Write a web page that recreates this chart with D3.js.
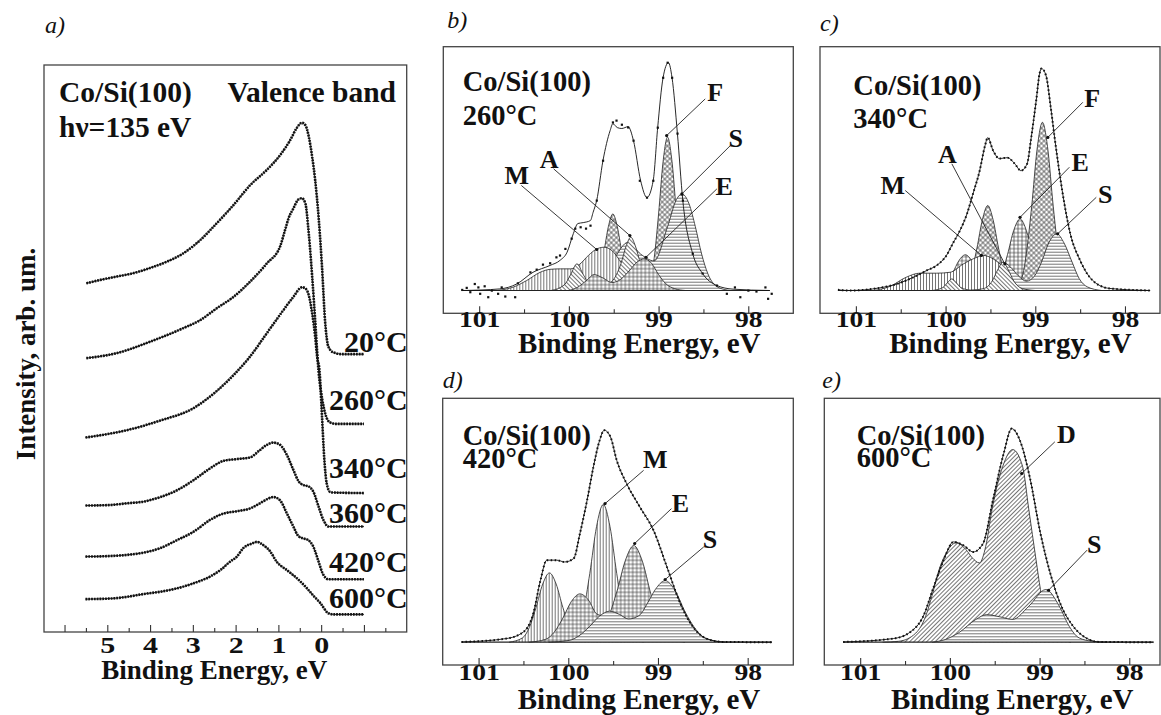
<!DOCTYPE html>
<meta charset="utf-8">
<script src="https://d3js.org/d3.v7.min.js"></script>
<style>
  body { margin: 0; background: #fff; }
  svg text { font-family: "Liberation Serif", "Times New Roman", serif; font-weight: bold; fill: #111; }
</style>
<div id="fig"></div>
<script>

// ---- a) valence band spectra: [binding energy eV, intensity arb. units] (already stacked)
var vbTemps = ["20°C", "260°C", "340°C", "360°C", "420°C", "600°C"];
var vb20 = [[5.49,61.5],[5.16,62.1],[4.77,62.7],[4.38,63.3],[4.00,64.2],[3.61,65.3],[3.22,66.8],[2.83,69.1],[2.44,72.1],[2.05,75.3],[1.66,78.8],[1.27,81.5],[0.96,84.1],[0.72,86.8],[0.57,88.9],[0.45,89.8],[0.37,89.4],[0.29,87.4],[0.21,83.8],[0.14,79.7],[0.06,73.2],[-0.02,64.4],[-0.09,55.0],[-0.17,50.3],[-0.29,49.3],[-0.5,49.0],[-1.0,49.0]];
var vb260 = [[5.49,48.3],[4.77,49.2],[4.00,51.2],[3.22,53.6],[2.83,55.0],[2.44,57.1],[2.05,59.1],[1.66,61.8],[1.27,65.0],[0.96,68.0],[0.84,71.0],[0.76,73.0],[0.65,74.7],[0.53,76.3],[0.45,76.5],[0.37,75.6],[0.29,70.3],[0.21,62.7],[0.14,55.0],[0.06,45.9],[-0.02,41.3],[-0.10,38.4],[-0.20,37.0],[-0.35,36.7],[-1.0,36.7]];
var vb340 = [[5.51,34.3],[4.54,35.6],[3.76,37.3],[2.98,39.5],[2.52,42.0],[2.05,45.3],[1.66,48.6],[1.27,52.7],[0.88,56.8],[0.65,59.1],[0.45,60.8],[0.37,60.6],[0.29,59.4],[0.21,56.2],[0.14,52.1],[0.09,48.3],[0.04,46.2],[-0.02,38.0],[-0.07,30.9],[-0.13,26.2],[-0.21,24.7],[-0.29,24.6],[-1.0,24.5]];
var vb360 = [[5.51,22.3],[4.93,22.4],[4.54,22.7],[4.15,23.0],[3.76,23.8],[3.37,25.0],[2.98,26.8],[2.59,28.9],[2.28,30.2],[1.97,30.5],[1.66,30.8],[1.43,32.1],[1.27,33.0],[1.12,33.4],[0.96,33.0],[0.80,31.2],[0.65,28.6],[0.53,26.6],[0.41,25.9],[0.30,25.7],[0.18,24.7],[0.06,22.1],[-0.05,19.8],[-0.17,18.6],[-1.0,18.6]];
var vb420 = [[5.51,13.3],[4.93,13.4],[4.54,13.6],[4.15,14.0],[3.76,14.8],[3.37,16.2],[2.98,17.7],[2.59,19.8],[2.28,20.9],[1.97,21.3],[1.66,21.8],[1.43,22.7],[1.27,23.4],[1.12,23.8],[0.96,23.2],[0.80,20.9],[0.65,18.6],[0.53,16.9],[0.41,16.5],[0.30,16.2],[0.18,15.0],[0.06,12.4],[-0.05,10.1],[-0.17,9.3],[-1.0,9.3]];
var vb600 = [[5.51,5.8],[4.93,5.9],[4.54,6.2],[4.15,6.7],[3.76,7.1],[3.37,7.7],[2.98,8.6],[2.59,9.8],[2.36,10.9],[2.13,12.4],[1.97,13.3],[1.82,14.8],[1.62,15.6],[1.50,15.9],[1.35,15.3],[1.19,14.2],[1.04,12.4],[0.80,10.9],[0.57,9.5],[0.33,7.7],[0.18,6.4],[0.02,5.1],[-0.17,3.3],[-0.29,3.1],[-1.0,3.1]];
var vbSeries = [vb20, vb260, vb340, vb360, vb420, vb600];
var vbLabelLevel = [49.4, 39.2, 27.2, 19.2, 10.6, 4.2];
var vbTicks = [6, 5.5, 5, 4.5, 4, 3.5, 3, 2.5, 2, 1.5, 1, 0.5, 0, -0.5, -1, -1.5];

// ---- b)-e) Si 2p core level: fit envelope, measured points, fitted components
var siTicks = [101, 100.5, 100, 99.5, 99, 98.5, 98];

var b_fit = [[101.19,0],[100.77,0.7],[100.58,2.9],[100.40,8.0],[100.21,11.0],[100.10,13.2],[100.02,16.8],[99.95,25.0],[99.90,29.4],[99.84,29.8],[99.76,30.7],[99.73,34.3],[99.69,39.5],[99.62,57.0],[99.54,70.2],[99.51,73.2],[99.46,71.5],[99.41,71.1],[99.34,71.9],[99.28,65.8],[99.20,48.2],[99.13,40.8],[99.06,48.2],[99.01,71.5],[98.95,93.4],[98.89,100],[98.85,93.4],[98.79,68.9],[98.73,39.5],[98.62,16.2],[98.51,7.5],[98.35,2.2],[98.17,0.6],[97.76,0]];
var b_pts = [[101.19,0.3],[101.14,1.2],[101.10,-0.7],[101.05,2.9],[101.01,1.4],[100.99,-1.4],[100.94,1.9],[100.90,-2.9],[100.86,0],[100.79,-1.4],[100.75,1.4],[100.71,-2.6],[100.60,-2.9],[100.57,3.2],[100.43,8.0],[100.36,9.2],[100.29,11.4],[100.21,12.0],[100.14,14.6],[100.10,15.4],[100.04,18.3],[99.97,22.8],[99.93,27.2],[99.87,27.8],[99.81,27.2],[99.76,28.5],[99.69,39.5],[99.62,57],[99.51,73.8],[99.47,74.6],[99.41,72.8],[99.34,71.6],[99.28,65.8],[99.21,48.2],[99.13,40.8],[99.06,48.2],[99.01,71.5],[98.95,93.4],[98.90,100],[98.85,93.4],[98.79,68.9],[98.73,39.5],[98.62,16.2],[98.51,7.5],[98.35,2.2],[98.24,-1.4],[98.15,1.4],[98.09,-2.9],[98.00,0],[97.91,-0.4],[97.81,1.4],[97.78,-3.6],[97.74,-1.4]];
var b_F = [[99.85,0],[99.71,2],[99.66,7],[99.61,16.8],[99.56,28],[99.51,33.6],[99.46,28],[99.41,16.8],[99.36,7],[99.31,2],[99.22,0.3],[99.10,4.2],[99.05,14],[99.00,33.6],[98.95,56.5],[98.90,67.3],[98.85,56.5],[98.80,33.6],[98.75,14],[98.70,4.2],[98.60,0.3],[98.45,0]];
var b_S = [[99.85,0],[99.65,4],[99.50,13.6],[99.34,21.2],[99.20,16],[99.05,13],[98.90,28],[98.80,40],[98.74,42.4],[98.66,38],[98.59,28],[98.52,16],[98.45,7.3],[98.34,1.5],[98.20,0]];
var b_M = [[100.80,0],[100.62,1.5],[100.47,4.4],[100.32,8],[100.21,9.3],[100.09,9.5],[99.98,9.5],[99.88,11.5],[99.78,15.5],[99.70,18],[99.61,19],[99.52,17.5],[99.43,13],[99.35,8],[99.25,3],[99.10,0.5],[99.00,0]];
var b_A = [[100.20,0],[100.05,2.5],[99.98,7],[99.91,11.7],[99.84,7],[99.76,2.5],[99.65,1.5],[99.52,4],[99.42,11.7],[99.36,19.7],[99.31,23.4],[99.26,19.7],[99.20,11.7],[99.10,4],[98.95,0.5],[98.80,0]];
var b_E = [[100.00,0],[99.90,1.5],[99.80,4.5],[99.72,7],[99.62,5.5],[99.52,3.5],[99.42,5],[99.32,9],[99.24,12.5],[99.16,13.9],[99.08,12],[99.00,7],[98.92,3],[98.82,0.8],[98.70,0]];

var c_fit = [[101.20,0.3],[101.07,0],[100.73,1.2],[100.54,2.9],[100.36,5.8],[100.21,8.8],[100.10,11.0],[99.99,15.4],[99.92,20.6],[99.84,26.3],[99.76,33.8],[99.70,41.7],[99.62,52.6],[99.56,63.6],[99.53,67.1],[99.47,61.4],[99.40,57.9],[99.31,58.3],[99.23,55.7],[99.16,52.6],[99.09,55.7],[99.05,65.8],[98.99,83.3],[98.95,95.6],[98.93,97.4],[98.88,94.3],[98.83,81.1],[98.78,65.8],[98.70,43.9],[98.61,25.0],[98.50,13.2],[98.36,4.4],[98.17,0.9],[97.72,0]];
var c_F = [[99.90,0],[99.80,1],[99.73,5.4],[99.65,18.7],[99.59,31],[99.53,37.3],[99.47,31],[99.41,18.7],[99.33,5.4],[99.25,1.5],[99.20,1.7],[99.12,10.8],[99.04,37],[98.98,62],[98.92,73.8],[98.86,62],[98.80,37],[98.72,10.8],[98.64,1.7],[98.50,0]];
var c_E = [[100.20,0],[100.06,1],[99.99,3.3],[99.92,7.8],[99.85,13.2],[99.78,15.7],[99.71,13.2],[99.64,7.8],[99.57,3.3],[99.48,1.8],[99.38,6.6],[99.31,15.7],[99.24,26.4],[99.17,31.4],[99.10,26.4],[99.03,15.7],[98.96,6.6],[98.89,2],[98.75,0]];
var c_S = [[99.86,0],[99.70,0.8],[99.61,2.6],[99.53,6.2],[99.45,10.4],[99.36,12.4],[99.28,10.4],[99.19,6.5],[99.10,4.1],[99.01,6.3],[98.93,12.5],[98.85,20.9],[98.76,24.9],[98.68,20.9],[98.59,12.5],[98.51,5.2],[98.42,1.6],[98.26,0]];
var c_M = [[100.80,0],[100.62,1.8],[100.44,5.8],[100.29,7.6],[100.10,7.6],[99.95,8],[99.80,11.7],[99.65,14.6],[99.58,15.4],[99.47,13.9],[99.36,10.2],[99.26,4.4],[99.17,0.7],[99.05,0]];
var c_A = [[100.15,0],[100.03,1.3],[99.98,3.4],[99.93,5.1],[99.88,3.4],[99.83,1.3],[99.72,0.2],[99.58,0.8],[99.48,4.2],[99.42,9],[99.36,12.4],[99.30,9],[99.24,4.2],[99.14,0.8],[99.00,0]];

var d_fit = [[101.19,0.1],[100.69,1.6],[100.50,4.5],[100.39,12.6],[100.31,27.2],[100.24,36.0],[100.13,36.0],[100.04,35.2],[99.94,36.7],[99.87,47.7],[99.79,62.3],[99.72,76.9],[99.65,88.6],[99.60,93.0],[99.53,90.1],[99.46,79.8],[99.35,69.6],[99.20,59.2],[99.05,49.1],[98.90,33.0],[98.75,16.9],[98.61,6.7],[98.46,1.6],[98.27,0.1],[97.73,0]];
var d_M = [[100.66,0],[100.51,1.9],[100.435,6.4],[100.36,15.2],[100.285,25.5],[100.21,30.4],[100.135,25.5],[100.06,15.2],[99.985,7.2],[99.91,5.7],[99.835,13.1],[99.76,30.2],[99.685,50.7],[99.61,60.4],[99.535,50.7],[99.46,30.2],[99.385,12.7],[99.31,3.8],[99.16,0]];
var d_E = [[100.44,0],[100.25,1.3],[100.155,4.5],[100.06,10.6],[99.965,17.9],[99.87,21.2],[99.775,18.5],[99.68,12.3],[99.57,11.3],[99.46,22],[99.365,35.7],[99.27,42.4],[99.175,35.6],[99.08,21.2],[98.985,8.9],[98.89,2.7],[98.70,0]];
var d_S = [[100.22,0],[99.99,0.8],[99.88,2.8],[99.765,6.8],[99.65,11.5],[99.54,13.6],[99.43,12.2],[99.33,10.2],[99.21,11.7],[99.11,17.6],[99.03,23.1],[98.92,27],[98.81,22.7],[98.70,13.5],[98.58,5.7],[98.47,1.7],[98.25,0]];

var e_fit = [[101.19,0.1],[100.63,1.6],[100.44,4.5],[100.30,11.1],[100.18,24.3],[100.07,36.0],[99.96,44.0],[99.85,42.5],[99.74,39.6],[99.63,43.3],[99.52,62.3],[99.40,82.8],[99.31,93.7],[99.22,88.6],[99.11,72.5],[98.99,47.7],[98.88,30.1],[98.77,17.0],[98.62,6.7],[98.47,1.6],[98.33,0.1],[97.73,0]];
var e_D = [[100.75,0],[100.57,0.4],[100.38,4],[100.27,11.4],[100.19,21.7],[100.12,31.9],[100.04,39.2],[99.93,43.6],[99.82,40.6],[99.75,37],[99.67,34.8],[99.60,42.1],[99.53,58.2],[99.41,77.2],[99.30,84.5],[99.19,77.2],[99.12,58.2],[99.04,36.3],[98.99,23.1],[98.90,9],[98.80,2.5],[98.65,0]];
var e_S = [[100.20,0],[100.05,1.2],[99.90,4.2],[99.71,10],[99.59,12.1],[99.45,11.2],[99.30,10],[99.12,15.8],[98.93,23.1],[98.78,15.8],[98.67,7],[98.56,1.9],[98.41,0.4],[98.25,0]];


var svg = d3.select("#fig").append("svg").attr("width", 1161).attr("height", 715);
svg.append("rect").attr("width", 1161).attr("height", 715).attr("fill", "#fff");
var defs = svg.append("defs");

// hatch patterns for the fitted components
function hatch(id, size, paths, rot) {
  var p = defs.append("pattern").attr("id", id).attr("patternUnits", "userSpaceOnUse")
    .attr("width", size).attr("height", size);
  if (rot) p.attr("patternTransform", "rotate(" + rot + ")");
  p.append("rect").attr("width", size).attr("height", size).attr("fill", "#fff");
  paths.forEach(function (d) {
    p.append("path").attr("d", d).attr("stroke", "#3a3a3a").attr("stroke-width", 0.7).attr("fill", "none");
  });
}
hatch("hv", 3, ["M1.5,0V3"]);
hatch("hh", 3, ["M0,1.5H3"]);
hatch("hgrid", 4, ["M2,0V4", "M0,2H4"]);
hatch("hback", 3, ["M1.5,0V3"], -45);
hatch("hfwd", 3, ["M1.5,0V3"], 45);
hatch("hdiam", 3.6, ["M1.8,0V3.6", "M0,1.8H3.6"], 45);

function italicLabel(x, y, t) {
  svg.append("text").attr("x", x).attr("y", y).style("font-weight", "normal").style("font-style", "italic")
    .style("font-size", "24px").text(t);
}

// inward ticks, longer on whole numbers
function styleAxis(ax, dy, size, sx) {
  ax.select(".domain").remove();
  ax.selectAll(".tick line").attr("stroke", "#333").attr("stroke-width", 1.1)
    .attr("y2", function (d) { return d % 1 === 0 ? -7 : -4; });
  ax.selectAll("text").attr("y", dy).attr("dy", null).style("font-size", size)
    .attr("transform", "scale(" + sx + ",1)");
}

// ---------- panel a
(function () {
  var fx = 44, fy = 65, fw = 362.7, fh = 567;
  var g = svg.append("g").attr("transform", "translate(" + fx + "," + fy + ")");
  var x = d3.scaleLinear().domain([6.48, -2.0]).range([0, fw]);
  var y = d3.scaleLinear().domain([0, 100]).range([fh, 0]);
  var line = d3.line().x(function (d) { return x(d[0]); }).y(function (d) { return y(d[1]); }).curve(d3.curveMonotoneX);

  vbSeries.forEach(function (s, i) {
    g.append("path").attr("d", line(s)).attr("fill", "none").attr("stroke", "#111").attr("stroke-width", 0.9);
    g.append("path").attr("d", line(s)).attr("fill", "none").attr("stroke", "#111")
      .attr("stroke-width", 2.6).attr("stroke-dasharray", "1.8 1");
    g.append("text").attr("x", fw + 1).attr("y", y(vbLabelLevel[i])).attr("text-anchor", "end")
      .style("font-size", "30px").text(vbTemps[i]);
  });

  g.append("text").attr("x", 15).attr("y", 37).style("font-size", "29.5px").text("Co/Si(100)");
  g.append("text").attr("x", 15).attr("y", 72).style("font-size", "29.5px").text("hν=135 eV");
  g.append("text").attr("x", 352).attr("y", 37).attr("text-anchor", "end").style("font-size", "29.5px").text("Valence band");

  g.append("rect").attr("width", fw).attr("height", fh).attr("fill", "none").attr("stroke", "#444").attr("stroke-width", 1.3);
  var ax = g.append("g").attr("transform", "translate(0," + fh + ")")
    .call(d3.axisBottom(x).tickValues(vbTicks).tickSize(-6).tickSizeOuter(0)
      .tickFormat(function (d) { return (d >= 0 && d <= 5 && d % 1 === 0) ? d : ""; }));
  styleAxis(ax, 21, "24px", 1.25);

  g.append("text").attr("x", x(2.5)).attr("y", fh + 47).attr("text-anchor", "middle").style("font-size", "27px")
    .text("Binding Energy, eV");
  svg.append("text").attr("transform", "translate(35,354) rotate(-90)").attr("text-anchor", "middle")
    .style("font-size", "27px").text("Intensity, arb. um.");
  italicLabel(45, 33, "a)");
})();

// ---------- panels b-e
var panels = [
  { name: "b)", x: 443.3, y: 46.7, w: 350, h: 266.6, temp: "260°C", fit: b_fit, pts: b_pts,
    comps: [[b_F, "hdiam"], [b_S, "hh"], [b_M, "hv"], [b_A, "hback"], [b_E, "hgrid"]],
    labels: [["M", [100.58, 46.9], [100.53, 46.1], [99.69, 18]], ["A", [100.22, 53.9], [100.17, 53.4], [99.32, 24.1]],
             ["F", [98.37, 83.3], [98.48, 84.1], [98.91, 68]], ["S", [98.14, 62.9], [98.20, 63.6], [98.74, 42.4]],
             ["E", [98.27, 41.7], [98.35, 44.6], [99.14, 14.6]]],
    title: [19.4, 44, 78], letter: [4, -19], tickY: 14, xlab: 40 },
  { name: "c)", x: 820, y: 46.7, w: 340, h: 266.6, temp: "340°C", fit: c_fit, pts: null,
    comps: [[c_E, "hgrid"], [c_F, "hdiam"], [c_S, "hh"], [c_M, "hv"], [c_A, "hback"]],
    labels: [["F", [98.365, 80.4], [98.47, 82.6], [98.86, 67.2]], ["E", [98.50, 52.6], [98.62, 54.1], [99.17, 32.1]],
             ["S", [98.22, 38.2], [98.32, 40.9], [98.75, 24.9]], ["A", [99.98, 56.1], [99.93, 55.6], [99.34, 11.7]],
             ["M", [100.59, 42.5], [100.45, 43.9], [99.60, 15.4]]],
    title: [33.3, 48, 81], letter: [0, -16], tickY: 14, xlab: 40 },
  { name: "d)", x: 442.7, y: 398.3, w: 350.6, h: 266.7, temp: "420°C", fit: d_fit, pts: null,
    comps: [[d_M, "hv"], [d_E, "hgrid"], [d_S, "hh"]],
    labels: [["M", [99.03, 76.3], [99.16, 75.4], [99.59, 60.8]], ["E", [98.75, 57.0], [98.85, 58.6], [99.26, 43.3]],
             ["S", [98.42, 41.2], [98.49, 41.8], [98.92, 27.5]]],
    title: [20, 47, 70], letter: [0, -10], tickY: 15, xlab: 44 },
  { name: "e)", x: 824.3, y: 398.3, w: 335.7, h: 266.7, temp: "600°C", fit: e_fit, pts: null,
    comps: [[e_D, "hfwd"], [e_S, "hh"]],
    labels: [["D", [98.70, 87.3], [98.83, 87.9], [99.20, 74]], ["S", [98.39, 39], [98.47, 40.4], [98.90, 22.8]]],
    title: [32.4, 47, 69], letter: [-2, -10], tickY: 15, xlab: 44 }
];

panels.forEach(function (p) {
  var g = svg.append("g").attr("transform", "translate(" + p.x + "," + p.y + ")");
  var x = d3.scaleLinear().domain([101.4, 101.4 - p.w / 89.7]).range([0, p.w]);
  var y = d3.scaleLinear().domain([-10, 107]).range([p.h, 0]);
  var area = d3.area().x(function (d) { return x(d[0]); }).y0(y(0)).y1(function (d) { return y(d[1]); }).curve(d3.curveMonotoneX);
  var line = d3.line().x(function (d) { return x(d[0]); }).y(function (d) { return y(d[1]); }).curve(d3.curveMonotoneX);

  p.comps.forEach(function (c) {
    g.append("path").attr("d", area(c[0])).attr("fill", "url(#" + c[1] + ")");
    g.append("path").attr("d", line(c[0])).attr("fill", "none").attr("stroke", "#222").attr("stroke-width", 0.8);
  });

  var f = p.fit;
  g.append("line").attr("x1", x(f[0][0])).attr("x2", x(f[f.length - 1][0])).attr("y1", y(0)).attr("y2", y(0))
    .attr("stroke", "#222").attr("stroke-width", 1.2);
  g.append("path").attr("d", line(f)).attr("fill", "none").attr("stroke", "#111").attr("stroke-width", 0.9);
  if (p.pts) {
    g.selectAll(".pt").data(p.pts).enter().append("rect")
      .attr("x", function (d) { return x(d[0]) - 1; }).attr("y", function (d) { return y(d[1]) - 1; })
      .attr("width", 2.2).attr("height", 2.2).attr("fill", "#111");
  } else {
    g.append("path").attr("d", line(f)).attr("fill", "none").attr("stroke", "#111")
      .attr("stroke-width", 2).attr("stroke-dasharray", "1.5 2.5");
  }

  p.labels.forEach(function (l) {
    g.append("line").attr("x1", x(l[2][0])).attr("y1", y(l[2][1])).attr("x2", x(l[3][0])).attr("y2", y(l[3][1]))
      .attr("stroke", "#222").attr("stroke-width", 0.9);
    g.append("circle").attr("cx", x(l[3][0])).attr("cy", y(l[3][1])).attr("r", 1.6).attr("fill", "#111");
    g.append("text").attr("x", x(l[1][0])).attr("y", y(l[1][1])).attr("text-anchor", "middle")
      .style("font-size", "26px").text(l[0]);
  });

  g.append("text").attr("x", p.title[0]).attr("y", p.title[1]).style("font-size", "28.5px").text("Co/Si(100)");
  g.append("text").attr("x", p.title[0]).attr("y", p.title[2]).style("font-size", "28.5px").text(p.temp);

  g.append("rect").attr("width", p.w).attr("height", p.h).attr("fill", "none").attr("stroke", "#444").attr("stroke-width", 1.3);
  var ax = g.append("g").attr("transform", "translate(0," + p.h + ")")
    .call(d3.axisBottom(x).tickValues(siTicks).tickSize(-6).tickSizeOuter(0)
      .tickFormat(function (d) { return d % 1 === 0 ? d : ""; }));
  styleAxis(ax, p.tickY, "24px", 1.15);

  g.append("text").attr("x", p.w * 0.56).attr("y", p.h + p.xlab).attr("text-anchor", "middle")
    .style("font-size", "29px").text("Binding Energy, eV");
  italicLabel(p.x + p.letter[0], p.y + p.letter[1], p.name);
});

</script>
